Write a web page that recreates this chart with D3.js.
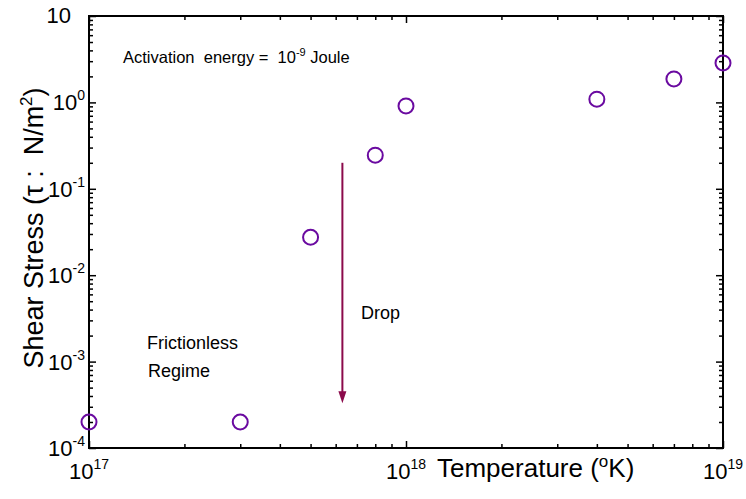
<!DOCTYPE html>
<html>
<head>
<meta charset="utf-8">
<script src="https://cdnjs.cloudflare.com/ajax/libs/d3/7.8.5/d3.min.js"></script>
<style>
    body { margin: 0; background: #fff; }
    svg text { font-family: Arial, "Liberation Sans", sans-serif; white-space: pre; fill: #000; }
</style>
</head>
<body>
<svg id="chart" width="746" height="499"></svg>
<script>
// data
const temperature = [1e17, 3e17, 5e17, 8e17, 1e18, 4e18, 7e18, 1e19];
const shearStress = [2e-4, 2e-4, 0.0275, 0.245, 0.91, 1.09, 1.87, 2.86];
const xTickExp = [17, 18, 19];
const yTickExp = [-4, -3, -2, -1, 0];
const arrowX = 6.3e17;
const arrowFrom = 0.2;
const arrowTo = 3.3e-4;

const svg = d3.select("#chart");
const pLeft = 89, pRight = 723, pTop = 16, pBottom = 448;

const x = d3.scaleLog().domain([1e17, 1e19]).range([pLeft, pRight]);
const y = d3.scaleLog().domain([1e-4, 10]).range([pBottom, pTop]);

// minor tick values
const xMinor = [], yMinor = [];
[17, 18].forEach(e => { for (let k = 2; k <= 9; k++) xMinor.push(k * Math.pow(10, e)); });
[-4, -3, -2, -1, 0].forEach(e => { for (let k = 2; k <= 9; k++) yMinor.push(k * Math.pow(10, e)); });
const xMajor = xTickExp.map(e => Math.pow(10, e));
const yMajor = yTickExp.map(e => Math.pow(10, e)).concat([10]);

function ticks(axisFn, scale, vals, size, tr) {
    const g = svg.append("g").attr("transform", tr)
        .call(axisFn(scale).tickValues(vals).tickSize(size).tickFormat(""));
    g.select(".domain").remove();
    g.selectAll("line").attr("stroke", "#000").attr("stroke-width", 1.5);
}
// inward ticks on all four sides
ticks(d3.axisBottom, x, xMajor, -7, `translate(0,${pBottom})`);
ticks(d3.axisBottom, x, xMinor, -4, `translate(0,${pBottom})`);
ticks(d3.axisTop, x, xMajor, -7, `translate(0,${pTop})`);
ticks(d3.axisTop, x, xMinor, -4, `translate(0,${pTop})`);
ticks(d3.axisLeft, y, yMajor, -7, `translate(${pLeft},0)`);
ticks(d3.axisLeft, y, yMinor, -4, `translate(${pLeft},0)`);
ticks(d3.axisRight, y, yMajor, -7, `translate(${pRight},0)`);
ticks(d3.axisRight, y, yMinor, -4, `translate(${pRight},0)`);

svg.append("rect")
    .attr("x", pLeft).attr("y", pTop)
    .attr("width", pRight - pLeft).attr("height", pBottom - pTop)
    .attr("fill", "none").attr("stroke", "#000").attr("stroke-width", 2);

// tick labels with superscript exponents
xTickExp.forEach(e => {
    const t = svg.append("text")
        .attr("x", x(Math.pow(10, e))).attr("y", 479)
        .attr("text-anchor", "middle").attr("font-size", 22);
    t.append("tspan").text("10");
    t.append("tspan").attr("font-size", 14).attr("dy", -10).text(e);
});
yTickExp.forEach(e => {
    const t = svg.append("text")
        .attr("x", 85).attr("y", y(Math.pow(10, e)) + 8)
        .attr("text-anchor", "end").attr("font-size", 22);
    t.append("tspan").text("10");
    t.append("tspan").attr("font-size", 14).attr("dy", -10).text(e);
});
svg.append("text")
    .attr("x", 71).attr("y", y(10) + 7)
    .attr("text-anchor", "end").attr("font-size", 22).text("10");

// axis titles
const xt = svg.append("text").attr("x", 437).attr("y", 477).attr("font-size", 26);
xt.append("tspan").text("Temperature (");
xt.append("tspan").attr("font-size", 17).attr("dy", -10).text("o");
xt.append("tspan").attr("dy", 10).text("K)");

const yt = svg.append("text")
    .attr("transform", "translate(43,228) rotate(-90)")
    .attr("text-anchor", "middle").attr("font-size", 27);
yt.append("tspan").text("Shear Stress (\u03C4 :  N/m");
yt.append("tspan").attr("font-size", 17).attr("dy", -11).text("2");
yt.append("tspan").attr("dy", 11).text(")");

// annotations
const at = svg.append("text").attr("x", 123).attr("y", 63).attr("font-size", 16.5);
at.append("tspan").text("Activation  energy =  10");
at.append("tspan").attr("font-size", 11).attr("dy", -7).text("-9");
at.append("tspan").attr("dy", 7).text(" Joule");

svg.append("text").attr("x", 147).attr("y", 349).attr("font-size", 18).text("Frictionless");
svg.append("text").attr("x", 148).attr("y", 377).attr("font-size", 18).text("Regime");
svg.append("text").attr("x", 361).attr("y", 319).attr("font-size", 18).text("Drop");

// arrow
const arrowColor = "#8b0a4b";
svg.append("line")
    .attr("x1", x(arrowX)).attr("x2", x(arrowX))
    .attr("y1", y(arrowFrom)).attr("y2", y(arrowTo) - 11)
    .attr("stroke", arrowColor).attr("stroke-width", 2);
svg.append("path")
    .attr("d", `M${x(arrowX) - 4},${y(arrowTo) - 12} L${x(arrowX) + 4},${y(arrowTo) - 12} L${x(arrowX)},${y(arrowTo)} Z`)
    .attr("fill", arrowColor);

// data points
svg.append("g").selectAll("circle")
    .data(temperature.map((t, i) => [t, shearStress[i]]))
    .join("circle")
    .attr("cx", d => x(d[0])).attr("cy", d => y(d[1]))
    .attr("r", 7.5)
    .attr("fill", "none").attr("stroke", "#6a0aa0").attr("stroke-width", 2);
</script>
</body>
</html>
